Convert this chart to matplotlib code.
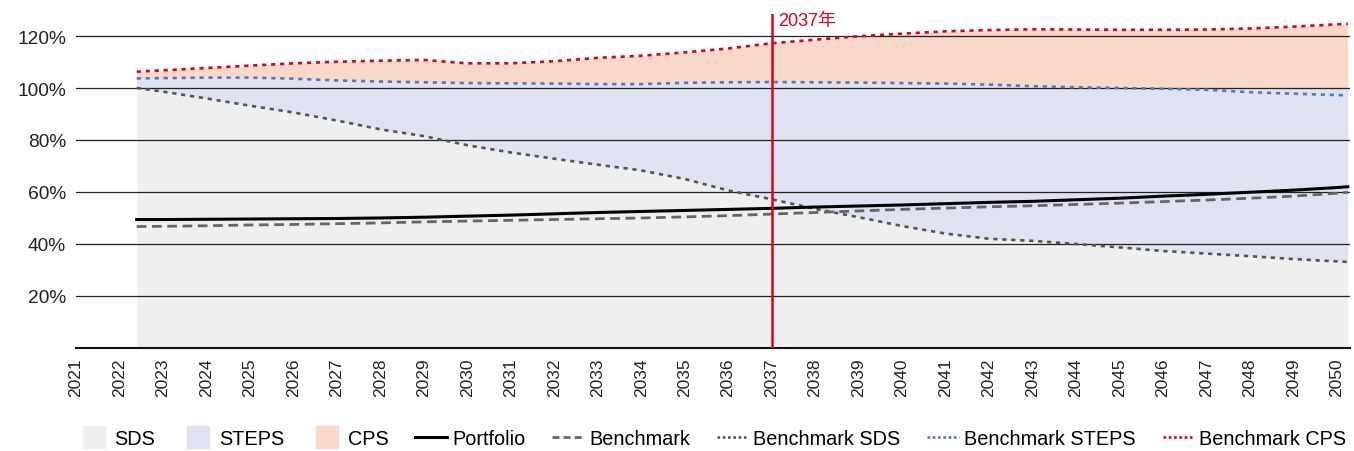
import matplotlib
matplotlib.use("Agg")
import matplotlib.pyplot as plt
from matplotlib.lines import Line2D
import numpy as np

plt.rcParams["font.family"] = ["Liberation Sans", "Noto Sans CJK SC", "DejaVu Sans"]

# ─────────────────────────────────────────────
# Data (in %)
# ─────────────────────────────────────────────

years = [2022.4, 2023, 2024, 2025, 2026, 2027, 2028, 2029, 2030, 2031,
         2032, 2033, 2034, 2035, 2036, 2037, 2038, 2039, 2040, 2041,
         2042, 2043, 2044, 2045, 2046, 2047, 2048, 2049, 2050, 2050.25]

bench_cps = [106.3, 106.8, 107.7, 108.6, 109.5, 110.1, 110.5, 110.8, 109.5, 109.5,
             110.3, 111.6, 112.4, 113.7, 115.2, 117.2, 118.6, 119.9, 120.9, 121.8,
             122.3, 122.6, 122.5, 122.4, 122.4, 122.5, 122.9, 123.6, 124.5, 124.7]

bench_steps = [103.7, 103.8, 104.0, 104.0, 103.6, 102.9, 102.5, 102.2, 101.9, 101.8,
               101.7, 101.5, 101.5, 102.0, 102.2, 102.3, 102.2, 102.1, 101.9, 101.7,
               101.3, 100.7, 100.3, 100.0, 99.7, 99.3, 98.4, 97.8, 97.3, 97.2]

bench_sds = [100.0, 98.6, 96.0, 93.2, 90.6, 87.5, 84.1, 81.5, 78.0, 75.2,
             72.8, 70.5, 68.3, 65.0, 60.6, 57.2, 53.5, 50.3, 46.9, 44.0,
             42.0, 41.2, 40.0, 38.7, 37.3, 36.3, 35.3, 34.2, 33.3, 33.1]

portfolio = [49.4, 49.4, 49.5, 49.6, 49.7, 49.8, 50.0, 50.3, 50.7, 51.1,
             51.6, 52.1, 52.5, 52.9, 53.3, 53.7, 54.2, 54.6, 55.0, 55.5,
             56.0, 56.4, 57.0, 57.6, 58.4, 59.1, 59.9, 60.7, 61.7, 62.0]

benchmark = [46.7, 46.8, 47.0, 47.3, 47.5, 47.8, 48.1, 48.5, 48.8, 49.1,
             49.4, 49.7, 50.0, 50.4, 50.9, 51.5, 52.1, 52.7, 53.3, 53.8,
             54.3, 54.7, 55.2, 55.7, 56.3, 56.9, 57.6, 58.4, 59.5, 59.9]

tick_years = [2021, 2022, 2023, 2024, 2025, 2026, 2027, 2028, 2029, 2030,
              2031, 2032, 2033, 2034, 2035, 2036, 2037, 2038, 2039, 2040,
              2041, 2042, 2043, 2044, 2045, 2046, 2047, 2048, 2049, 2050]
y_ticks = [20, 40, 60, 80, 100, 120]
marker_year = 2037
marker_label = "2037年"

# ─────────────────────────────────────────────
# Style
# ─────────────────────────────────────────────

COLORS = {
    "SDS":   "#efefef",
    "STEPS": "#dfe2f1",
    "CPS":   "#f7d8c9",
    "Portfolio":       "#000000",
    "Benchmark":       "#666666",
    "Benchmark SDS":   "#555555",
    "Benchmark STEPS": "#5577c5",
    "Benchmark CPS":   "#e2001a",
}
DOT = (0, (1.6, 1.8))
DASH = (0, (3.5, 2.0))

fig = plt.figure(figsize=(13.54, 4.52), dpi=100)
ax = fig.add_axes([0.056, 0.228, 0.941, 0.739])

# Scenario bands
sds = np.array(bench_sds)
steps_top = np.maximum(np.array(bench_steps), 100)
ax.fill_between(years, 0, sds, color=COLORS["SDS"], lw=0)
ax.fill_between(years, sds, steps_top, color=COLORS["STEPS"], lw=0)
ax.fill_between(years, steps_top, bench_cps, color=COLORS["CPS"], lw=0)

# Lines
ax.plot(years, bench_cps, color=COLORS["Benchmark CPS"], lw=1.9, ls=DOT)
ax.plot(years, bench_steps, color=COLORS["Benchmark STEPS"], lw=1.9, ls=DOT)
ax.plot(years, bench_sds, color=COLORS["Benchmark SDS"], lw=1.9, ls=DOT)
ax.plot(years, benchmark, color=COLORS["Benchmark"], lw=2.0, ls=DASH)
ax.plot(years, portfolio, color=COLORS["Portfolio"], lw=2.2)

# Marker year
ax.axvline(marker_year, color="#e2001a", lw=1.8, zorder=5)
ax.text(marker_year + 0.15, 125.8, marker_label, color="#e2001a",
        fontsize=13, va="center", ha="left")

# Axes
ax.set_xlim(2021.08, 2050.3)
ax.set_ylim(0, 128.5)
ax.set_xticks(tick_years)
ax.set_xticklabels([str(y) for y in tick_years], rotation=90, fontsize=12.5, color="#222222")
ax.set_yticks(y_ticks)
ax.set_yticklabels([f"{v}%" for v in y_ticks], fontsize=13.8, color="#222222")
ax.tick_params(length=0)
ax.tick_params(axis="y", pad=7)
ax.tick_params(axis="x", pad=7)

ax.set_axisbelow("line")
ax.grid(axis="y", color="#222222", lw=0.9)
for side in ("left", "right", "top"):
    ax.spines[side].set_visible(False)
ax.spines["bottom"].set_color("#111111")
ax.spines["bottom"].set_linewidth(1.5)

# Legend
handles = [
    Line2D([], [], marker="s", ms=16, ls="none", color=COLORS["SDS"], label="SDS"),
    Line2D([], [], marker="s", ms=16, ls="none", color=COLORS["STEPS"], label="STEPS"),
    Line2D([], [], marker="s", ms=16, ls="none", color=COLORS["CPS"], label="CPS"),
    Line2D([], [], color=COLORS["Portfolio"], lw=2.2, label="Portfolio"),
    Line2D([], [], color=COLORS["Benchmark"], lw=2.0, ls=(0, (2.5, 1.5)), label="Benchmark"),
    Line2D([], [], color=COLORS["Benchmark SDS"], lw=1.9, ls=(0, (1, 1)), label="Benchmark SDS"),
    Line2D([], [], color=COLORS["Benchmark STEPS"], lw=1.9, ls=(0, (1, 1)), label="Benchmark STEPS"),
    Line2D([], [], color=COLORS["Benchmark CPS"], lw=1.9, ls=(0, (1, 1)), label="Benchmark CPS"),
]
fig.legend(handles=handles, loc="center", bbox_to_anchor=(0.526, 0.027), ncol=8,
           frameon=False, fontsize=14.3, handlelength=1.6, handletextpad=0.25,
           columnspacing=1.35, borderpad=0.2)

fig.savefig("out.png", dpi=100)
